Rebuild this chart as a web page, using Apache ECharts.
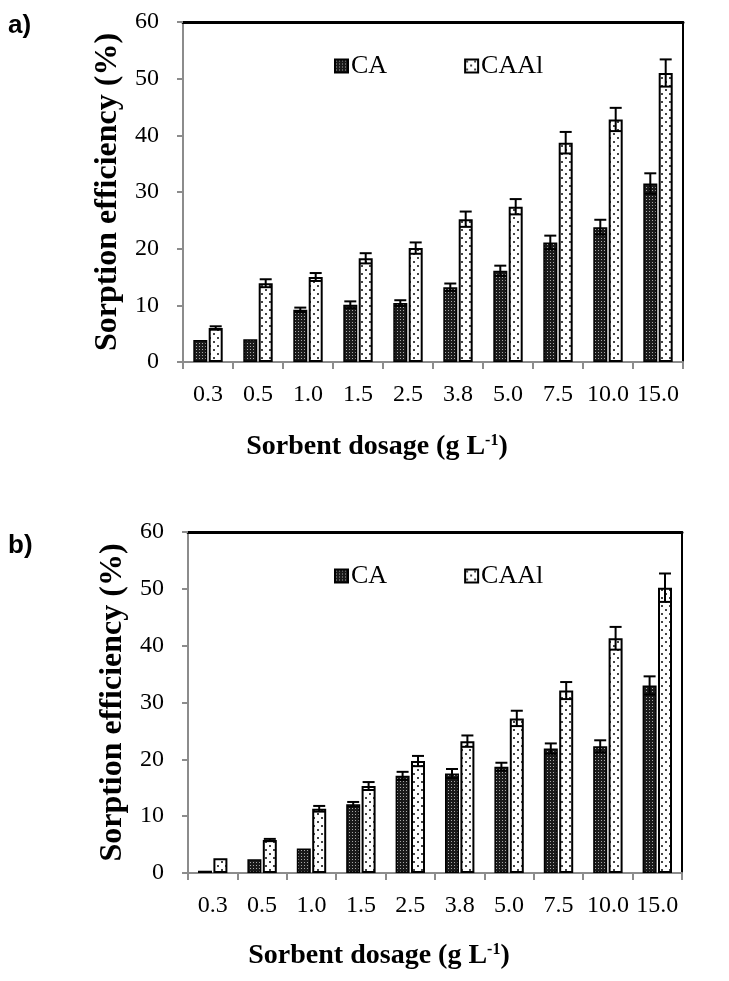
<!DOCTYPE html>
<html>
<head>
<meta charset="utf-8">
<script src="https://cdn.jsdelivr.net/npm/echarts@6/dist/echarts.min.js"></script>
<style>
html,body{margin:0;padding:0;background:#fff;}
#chart{width:729px;height:981px;}
</style>
</head>
<body>
<div id="chart"></div>
<script>
// ---- data ----
const categories = ['0.3','0.5','1.0','1.5','2.5','3.8','5.0','7.5','10.0','15.0'];
const yTicks = [0,10,20,30,40,50,60];
// panel a
const caA      = [3.9, 4.0, 9.2, 10.1, 10.4, 13.2, 16.1, 21.1, 23.8, 31.5];
const caErrA   = [0, 0, 0.4, 0.6, 0.5, 0.65, 0.9, 1.2, 1.3, 1.8];
const caalA    = [6.0, 13.9, 15.0, 18.3, 20.1, 25.2, 27.4, 38.7, 42.8, 51.0];
const caalErrA = [0.3, 0.7, 0.7, 0.9, 1.0, 1.35, 1.35, 1.9, 2.05, 2.4];
// panel b
const caB      = [0.4, 2.4, 4.3, 12.1, 17.1, 17.5, 18.7, 21.9, 22.3, 33.0];
const caErrB   = [0, 0, 0, 0.4, 0.7, 0.8, 0.7, 0.9, 1.05, 1.6];
const caalB    = [2.6, 5.8, 11.3, 15.3, 19.7, 23.2, 27.2, 32.1, 41.3, 50.2];
const caalErrB = [0, 0.2, 0.5, 0.7, 0.9, 1.0, 1.35, 1.5, 2.0, 2.5];

// ---- patterns ----
function makeCAPattern(){
  const c = document.createElement('canvas'); c.width = 3; c.height = 3;
  const g = c.getContext('2d');
  g.fillStyle = '#1a1a1a'; g.fillRect(0,0,3,3);
  g.fillStyle = '#a8a8a8'; g.fillRect(1,1,1,1);
  return c;
}
function makeCAAlPattern(){
  const c = document.createElement('canvas'); c.width = 8; c.height = 8;
  const g = c.getContext('2d');
  g.fillStyle = '#ffffff'; g.fillRect(0,0,8,8);
  g.fillStyle = '#444'; g.fillRect(1,1,2,2); g.fillRect(5,5,2,2);
  return c;
}
const caFill = {image: makeCAPattern(), repeat: 'repeat'};
const caalFill = {image: makeCAAlPattern(), repeat: 'repeat'};

const SERIF = "'Liberation Serif','Times New Roman',serif";
const BAR_W = 14, BAR_GAP = '10%';

function errData(vals, errs){ return vals.map((v,i)=>[i, v, errs[i]]); }

function errRender(seriesIdx){
  return function(params, api){
    const x = api.value(0), v = api.value(1), e = api.value(2);
    if (!e) return null;
    let off = seriesIdx === 0 ? -7.7 : 7.7;
    try {
      const lay = api.barLayout({count: 2, barWidth: BAR_W, barGap: BAR_GAP});
      if (lay && lay[seriesIdx] && isFinite(lay[seriesIdx].offsetCenter)) off = lay[seriesIdx].offsetCenter;
    } catch(err) {}
    const hi = api.coord([x, v + e]);
    const lo = api.coord([x, v - e]);
    const cx = hi[0] + off;
    const hw = 6;
    const st = {stroke: '#000', lineWidth: 2};
    return {type: 'group', children: [
      {type: 'line', shape: {x1: cx, y1: hi[1], x2: cx, y2: lo[1]}, style: st},
      {type: 'line', shape: {x1: cx - hw, y1: hi[1], x2: cx + hw, y2: hi[1]}, style: st},
      {type: 'line', shape: {x1: cx - hw, y1: lo[1], x2: cx + hw, y2: lo[1]}, style: st}
    ]};
  };
}

const grids = [
  {left: 183, right: 46, top: 22, height: 340},
  {left: 188, right: 47, top: 532, height: 341}
];
const nameGaps = [71, 69];
const yNameGap = 58;

const xAxes = [], yAxes = [], series = [];
[0,1].forEach(gi => {
  xAxes.push({
    type: 'category', gridIndex: gi, data: categories, position: 'bottom',
    axisLine: {show: true, onZero: false, lineStyle: {color: '#8c8c8c', width: 2}},
    axisTick: {show: true, length: 7, lineStyle: {color: '#8c8c8c', width: 2}},
    axisLabel: {color: '#000', fontFamily: SERIF, fontSize: 24, margin: 21, interval: 0, hideOverlap: false},
    name: 'Sorbent dosage (g L{sup|-1})',
    nameLocation: 'middle', nameGap: nameGaps[gi],
    nameTextStyle: {
      color: '#000', fontFamily: SERIF, fontSize: 28, fontWeight: 'bold',
      padding: [0, 112, 0, 0],
      rich: {sup: {fontFamily: SERIF, fontSize: 16, fontWeight: 'bold', color: '#000', verticalAlign: 'top', padding: [0,0,12,0]}}
    }
  });
  xAxes.push({
    type: 'category', gridIndex: gi, data: categories, position: 'top',
    axisLine: {show: true, onZero: false, lineStyle: {color: '#000', width: 3}},
    axisTick: {show: false}, axisLabel: {show: false}
  });
  yAxes.push({
    type: 'value', gridIndex: gi, min: yTicks[0], max: yTicks[yTicks.length-1], interval: 10, position: 'left',
    axisLine: {show: true, onZero: false, lineStyle: {color: '#8c8c8c', width: 2}},
    axisTick: {show: true, length: 6, lineStyle: {color: '#8c8c8c', width: 2}},
    splitLine: {show: false},
    axisLabel: {color: '#000', fontFamily: SERIF, fontSize: 24, margin: 24},
    name: 'Sorption efficiency (%)', nameLocation: 'middle', nameGap: yNameGap,
    nameTextStyle: {color: '#000', fontFamily: SERIF, fontSize: 32, fontWeight: 'bold'}
  });
  yAxes.push({
    type: 'value', gridIndex: gi, min: 0, max: 60, interval: 10, position: 'right',
    axisLine: {show: true, onZero: false, lineStyle: {color: '#000', width: 2}},
    axisTick: {show: false}, axisLabel: {show: false}, splitLine: {show: false}
  });
});

const panels = [
  {ca: caA, caErr: caErrA, caal: caalA, caalErr: caalErrA},
  {ca: caB, caErr: caErrB, caal: caalB, caalErr: caalErrB}
];
panels.forEach((p, gi) => {
  const xi = gi * 2, yi = gi * 2;
  series.push({
    name: 'CA', type: 'bar', xAxisIndex: xi, yAxisIndex: yi, data: p.ca,
    barWidth: BAR_W, barGap: BAR_GAP,
    itemStyle: {color: caFill, borderColor: '#000', borderWidth: 1.5}
  });
  series.push({
    name: 'CAAl', type: 'bar', xAxisIndex: xi, yAxisIndex: yi, data: p.caal,
    barWidth: BAR_W, barGap: BAR_GAP,
    itemStyle: {color: caalFill, borderColor: '#000', borderWidth: 2}
  });
  series.push({
    type: 'custom', xAxisIndex: xi, yAxisIndex: yi, renderItem: errRender(0),
    data: errData(p.ca, p.caErr), encode: {x: 0, y: 1}, z: 5
  });
  series.push({
    type: 'custom', xAxisIndex: xi, yAxisIndex: yi, renderItem: errRender(1),
    data: errData(p.caal, p.caalErr), encode: {x: 0, y: 1}, z: 5
  });
});

const legendBase = {
  data: ['CA', 'CAAl'], left: 329, itemWidth: 13, itemHeight: 13, itemGap: 77,
  icon: 'rect',
  textStyle: {color: '#000', fontFamily: SERIF, fontSize: 26, padding: [0,0,0,-2]},
  selectedMode: false
};

const chart = echarts.init(document.getElementById('chart'), null, {renderer: 'canvas'});
chart.setOption({
  backgroundColor: '#fff',
  animation: false,
  grid: grids,
  xAxis: xAxes,
  yAxis: yAxes,
  legend: [
    Object.assign({}, legendBase, {top: 48}),
    Object.assign({}, legendBase, {top: 558})
  ],
  graphic: [
    {type: 'text', left: 8, top: 13, style: {text: 'a)', fontFamily: "'Liberation Sans Narrow','Liberation Sans',Arial,sans-serif", fontWeight: 'bold', fontSize: 26, fill: '#000'}},
    {type: 'text', left: 8, top: 533, style: {text: 'b)', fontFamily: "'Liberation Sans Narrow','Liberation Sans',Arial,sans-serif", fontWeight: 'bold', fontSize: 26, fill: '#000'}}
  ],
  series: series
});
</script>
</body>
</html>
